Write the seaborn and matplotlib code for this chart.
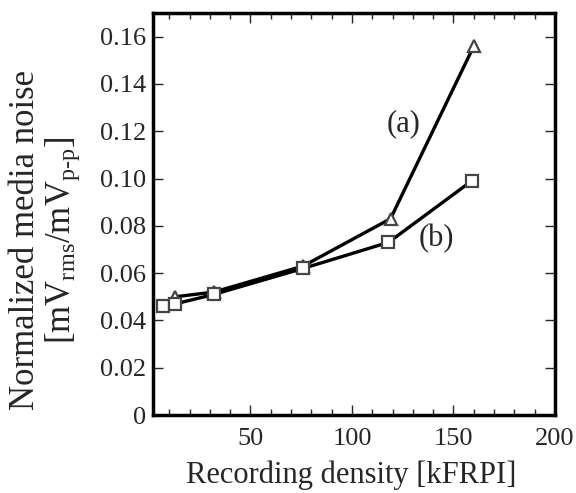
import pandas as pd
import seaborn as sns
import matplotlib.pyplot as plt
from matplotlib.ticker import MultipleLocator

# series (a): triangles, series (b): squares
density_a = [13, 32, 76, 119, 160]
noise_a = [0.050, 0.052, 0.063, 0.083, 0.156]
density_b = [7, 13, 32, 76, 118, 159]
noise_b = [0.046, 0.047, 0.051, 0.062, 0.073, 0.099]

x_ticks = [50, 100, 150, 200]
y_ticks = [0, 0.02, 0.04, 0.06, 0.08, 0.10, 0.12, 0.14, 0.16]
y_tick_labels = ["0", "0.02", "0.04", "0.06", "0.08", "0.10", "0.12", "0.14", "0.16"]


def build_frame() -> pd.DataFrame:
    df_a = pd.DataFrame({"density": density_a, "noise": noise_a, "sample": "(a)"})
    df_b = pd.DataFrame({"density": density_b, "noise": noise_b, "sample": "(b)"})
    return pd.concat([df_a, df_b], ignore_index=True)


sns.set_style("ticks")
plt.rcParams["font.family"] = ["Liberation Serif", "DejaVu Serif"]
plt.rcParams["mathtext.fontset"] = "custom"
plt.rcParams["mathtext.rm"] = "Liberation Serif"
plt.rcParams["mathtext.it"] = "Liberation Serif:italic"

df = build_frame()

fig = plt.figure(figsize=(5.76, 4.93), dpi=100)
ax = fig.add_axes([0.2656, 0.1582, 0.6979, 0.8154])

sns.lineplot(data=df, x="density", y="noise", hue="sample", style="sample",
             markers={"(a)": "^", "(b)": "s"}, dashes=False,
             palette={"(a)": "black", "(b)": "black"},
             linewidth=2.4, markersize=8.5, markerfacecolor="white",
             markeredgecolor="#444444", markeredgewidth=1.6,
             legend=False, ax=ax)

ax.set_xlim(2, 200)
ax.set_ylim(0, 0.17)
ax.set_xticks(x_ticks)
ax.xaxis.set_minor_locator(MultipleLocator(10))
ax.set_yticks(y_ticks)
ax.set_yticklabels(y_tick_labels)
ax.tick_params(which="both", direction="in", top=True, right=True,
               labelsize=19, width=1)
ax.tick_params(which="major", length=7)
ax.tick_params(which="minor", length=4)
ax.tick_params(axis="x", pad=9)
ax.tick_params(axis="y", pad=5)
for spine in ax.spines.values():
    spine.set_linewidth(2.5)
    spine.set_color("black")

ax.text(125.5, 0.123, "(a)", fontsize=22, ha="center", va="center")
ax.text(141.5, 0.0745, "(b)", fontsize=22, ha="center", va="center")

ax.set_xlabel("Recording density [kFRPI]", fontsize=22)
ax.xaxis.set_label_coords(0.4925, -0.113)
ax.set_ylabel("Normalized media noise\n"
              r"[mV$_{\mathrm{rms}}$/mV$_{\mathrm{p}\text{-}\mathrm{p}}$]",
              fontsize=25, linespacing=1.05)
ax.yaxis.set_label_coords(-0.177, 0.435)

fig.savefig("out.png", dpi=100)
